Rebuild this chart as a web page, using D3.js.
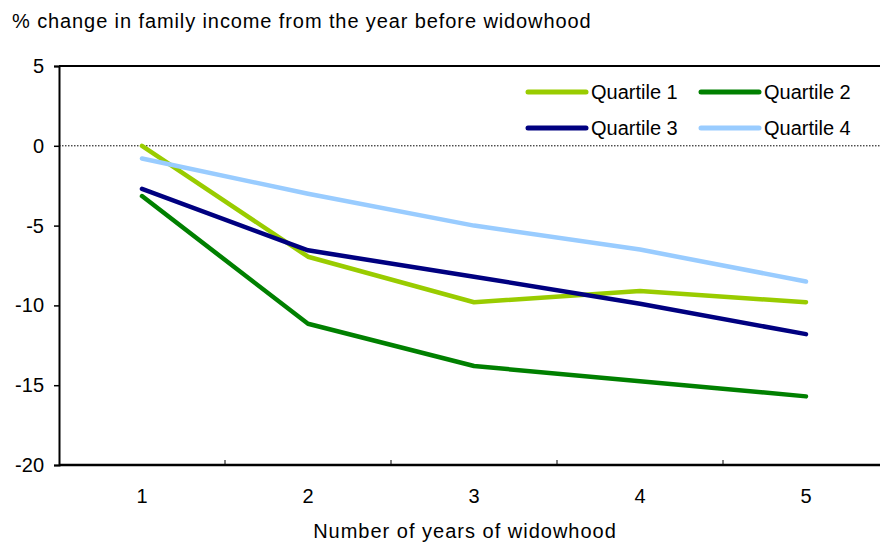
<!DOCTYPE html>
<html>
<head>
<meta charset="utf-8">
<script src="https://cdn.jsdelivr.net/npm/d3@7"></script>
<style>
  html, body { margin: 0; padding: 0; background: #fff; }
  svg { display: block; font-family: "Liberation Sans", Arial, sans-serif; }
</style>
</head>
<body>
<svg id="chart" width="880" height="548"></svg>
<script>
const categories = ["1", "2", "3", "4", "5"];
const seriesNames = ["Quartile 1", "Quartile 2", "Quartile 3", "Quartile 4"];
const quartile1 = [0.0, -6.95, -9.8, -9.1, -9.8];
const quartile2 = [-3.15, -11.15, -13.8, -14.75, -15.7];
const quartile3 = [-2.7, -6.55, -8.2, -9.9, -11.8];
const quartile4 = [-0.8, -3.0, -5.0, -6.5, -8.5];
const seriesColors = ["#99cc00", "#008000", "#000080", "#99ccff"];
const yTicks = [5, 0, -5, -10, -15, -20];
const yTitle = "% change in family income from the year before widowhood";
const xTitle = "Number of years of widowhood";

const seriesValues = [quartile1, quartile2, quartile3, quartile4];

const svg = d3.select("#chart");
const mLeft = 59, mRight = 889, mTop = 66, mBottom = 465;

const x = d3.scaleBand().domain(categories).range([mLeft, mRight]);
const y = d3.scaleLinear().domain([-20, 5]).range([mBottom, mTop]);

// title
svg.append("text").attr("x", 12).attr("y", 28)
  .attr("font-size", 20).attr("letter-spacing", 0.9).attr("fill", "#000").text(yTitle);

// zero line (dotted)
svg.append("line")
  .attr("x1", mLeft).attr("x2", 880)
  .attr("y1", y(0)).attr("y2", y(0))
  .attr("stroke", "#000").attr("stroke-width", 1)
  .attr("stroke-dasharray", "1.5,1.5");

// top border
svg.append("line").attr("x1", mLeft).attr("x2", 880)
  .attr("y1", mTop).attr("y2", mTop).attr("stroke", "#000").attr("stroke-width", 2);

// y axis
const yAxis = svg.append("g").attr("transform", `translate(${mLeft},0)`)
  .call(d3.axisLeft(y).tickValues(yTicks).tickSize(5).tickPadding(10).tickFormat(d => String(d)));
yAxis.select(".domain").attr("stroke-width", 2);
yAxis.selectAll(".tick line").attr("stroke-width", 1.5);
yAxis.selectAll(".tick text").attr("font-size", 20).attr("font-family", "Liberation Sans, Arial, sans-serif").attr("fill", "#000");

// x axis
const xAxis = svg.append("g").attr("transform", `translate(0,${mBottom})`)
  .call(d3.axisBottom(x).tickSize(0).tickPadding(24));
xAxis.select(".domain").attr("stroke-width", 2.5).attr("d", `M${mLeft},0H880`);
xAxis.selectAll(".tick text").attr("font-size", 20).attr("font-family", "Liberation Sans, Arial, sans-serif").attr("fill", "#000");
// band boundary ticks (inward)
svg.append("g").selectAll("line")
  .data(categories.slice(1))
  .join("line")
  .attr("x1", d => x(d)).attr("x2", d => x(d))
  .attr("y1", mBottom).attr("y2", mBottom - 5)
  .attr("stroke", "#000").attr("stroke-width", 1);

// x title
svg.append("text").attr("x", 465).attr("y", 538).attr("text-anchor", "middle")
  .attr("font-size", 20).attr("letter-spacing", 1).attr("fill", "#000").text(xTitle);

// lines
const line = d3.line()
  .x((d, i) => x(categories[i]) + x.bandwidth() / 2)
  .y(d => y(d));

svg.append("g").selectAll("path")
  .data(seriesValues)
  .join("path")
  .attr("d", d => line(d))
  .attr("fill", "none")
  .attr("stroke", (d, i) => seriesColors[i])
  .attr("stroke-width", 4.5)
  .attr("stroke-linejoin", "round")
  .attr("stroke-linecap", "round");

// legend
const legendPos = [[528, 92], [701, 92], [528, 128], [701, 128]];
const lg = svg.append("g").selectAll("g")
  .data(seriesNames)
  .join("g")
  .attr("transform", (d, i) => `translate(${legendPos[i][0]},${legendPos[i][1]})`);
lg.append("line").attr("x1", 0).attr("x2", 58).attr("y1", 0).attr("y2", 0)
  .attr("stroke", (d, i) => seriesColors[i]).attr("stroke-width", 5).attr("stroke-linecap", "round");
lg.append("text").attr("x", 63).attr("y", 7).attr("font-size", 20).attr("fill", "#000").text(d => d);
</script>
</body>
</html>
